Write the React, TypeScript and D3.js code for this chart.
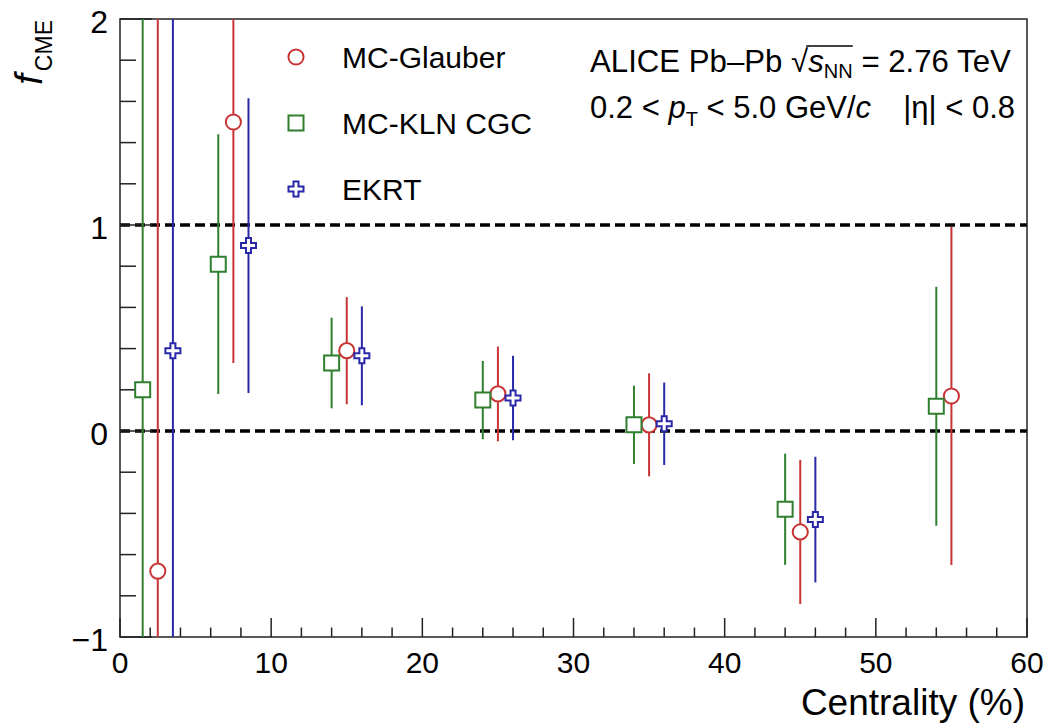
import React, { useEffect, useRef } from 'react';
import * as d3 from 'd3';

const W = 1049;
const H = 726;

// centrality bins, f_CME values and their errors
const glauberX = [2.5, 7.5, 15, 25, 35, 45, 55];
const glauberY = [-0.68, 1.5, 0.39, 0.18, 0.03, -0.49, 0.17];
const glauberErr = [2.9, 1.17, 0.26, 0.23, 0.25, 0.35, 0.82];

const klnX = [1.5, 6.5, 14, 24, 34, 44, 54];
const klnY = [0.2, 0.81, 0.33, 0.15, 0.03, -0.38, 0.12];
const klnErr = [2.5, 0.63, 0.22, 0.19, 0.19, 0.27, 0.58];

const ekrtX = [3.5, 8.5, 16, 26, 36, 46];
const ekrtY = [0.39, 0.9, 0.365, 0.16, 0.035, -0.43];
const ekrtErr = [2.5, 0.715, 0.24, 0.205, 0.2, 0.305];

const seriesNames = ['MC-Glauber', 'MC-KLN CGC', 'EKRT'];
const refLines = [0, 1];
const yTickLabels = ['\u22121', '0', '1', '2'];

const FONT = "'Liberation Sans', Arial, Helvetica, sans-serif";

const App = () => {
  const svgRef = useRef<SVGSVGElement | null>(null);

  useEffect(() => {
    if (!svgRef.current) return;
    const root = d3.select(svgRef.current);
    root.selectAll('*').remove();

    const left = 120, right = 1027, top = 19, bottom = 637;
    const x = d3.scaleLinear().domain([0, 60]).range([left, right]);
    const y = d3.scaleLinear().domain([-1, 2]).range([bottom, top]);

    const svg = root.append('g').attr('font-family', FONT);

    svg.append('defs').append('clipPath').attr('id', 'plotclip')
      .append('rect')
      .attr('x', left).attr('y', top)
      .attr('width', right - left).attr('height', bottom - top);

    // reference dashed lines
    svg.selectAll('.ref')
      .data(refLines)
      .join('line')
      .attr('x1', left).attr('x2', right)
      .attr('y1', d => y(d)).attr('y2', d => y(d))
      .attr('stroke', '#000')
      .attr('stroke-width', 3.5)
      .attr('stroke-dasharray', '10,5');

    // frame
    svg.append('rect')
      .attr('x', left).attr('y', top)
      .attr('width', right - left).attr('height', bottom - top)
      .attr('fill', 'none')
      .attr('stroke', '#222')
      .attr('stroke-width', 1.5);

    // x ticks
    const xMajor = x.ticks(6);
    const xMinor = d3.range(0, 60.001, 2).filter(v => v % 10 !== 0);
    svg.selectAll('.xmaj').data(xMajor).join('line')
      .attr('x1', d => x(d)).attr('x2', d => x(d))
      .attr('y1', bottom).attr('y2', bottom - 19)
      .attr('stroke', '#222').attr('stroke-width', 1.5);
    svg.selectAll('.xmin').data(xMinor).join('line')
      .attr('x1', d => x(d)).attr('x2', d => x(d))
      .attr('y1', bottom).attr('y2', bottom - 9.5)
      .attr('stroke', '#222').attr('stroke-width', 1.5);
    svg.selectAll('.xlab').data(xMajor).join('text')
      .attr('x', d => x(d)).attr('y', 673)
      .attr('text-anchor', 'middle')
      .attr('font-size', 30)
      .text(d => String(d));

    // y ticks
    const yMajor = y.ticks(3);
    const yMinor = d3.range(-1, 2.0001, 0.2).filter(v => Math.abs(v - Math.round(v)) > 0.01);
    svg.selectAll('.ymaj').data(yMajor).join('line')
      .attr('x1', left).attr('x2', left + 32)
      .attr('y1', d => y(d)).attr('y2', d => y(d))
      .attr('stroke', '#222').attr('stroke-width', 1.5);
    svg.selectAll('.ymin').data(yMinor).join('line')
      .attr('x1', left).attr('x2', left + 16)
      .attr('y1', d => y(d)).attr('y2', d => y(d))
      .attr('stroke', '#222').attr('stroke-width', 1.5);
    svg.selectAll('.ylab').data(yMajor).join('text')
      .attr('x', 108).attr('y', d => y(d) + 14)
      .attr('text-anchor', 'end')
      .attr('font-size', 32)
      .text((d, i) => yTickLabels[i]);

    // axis titles
    svg.append('text')
      .attr('x', 1025).attr('y', 715)
      .attr('text-anchor', 'end')
      .attr('font-size', 37)
      .text('Centrality (%)');

    const yt = svg.append('text')
      .attr('transform', 'translate(42,20) rotate(-90)')
      .attr('text-anchor', 'end');
    yt.append('tspan').attr('font-size', 38).attr('font-style', 'italic').text('f');
    yt.append('tspan').attr('font-size', 23).attr('dx', 3).attr('dy', 10).text('CME');

    // series
    const series = [
      { xs: glauberX, ys: glauberY, es: glauberErr, color: '#c83434', sym: d3.symbolCircle, size: 180 },
      { xs: klnX, ys: klnY, es: klnErr, color: '#2f7f2f', sym: d3.symbolSquare, size: 225 },
      { xs: ekrtX, ys: ekrtY, es: ekrtErr, color: '#2828a8', sym: d3.symbolCross, size: 125 },
    ];

    const plot = svg.append('g').attr('clip-path', 'url(#plotclip)');
    series.forEach(s => {
      const pts = s.xs.map((xv, i) => ({ x: xv, y: s.ys[i], e: s.es[i] }));
      plot.append('g').selectAll('line').data(pts).join('line')
        .attr('x1', d => x(d.x)).attr('x2', d => x(d.x))
        .attr('y1', d => y(d.y - d.e)).attr('y2', d => y(d.y + d.e))
        .attr('stroke', s.color).attr('stroke-width', 2);
      plot.append('g').selectAll('path').data(pts).join('path')
        .attr('transform', d => `translate(${x(d.x)},${y(d.y)})`)
        .attr('d', d3.symbol(s.sym, s.size)())
        .attr('fill', '#fff')
        .attr('stroke', s.color).attr('stroke-width', 2);
    });

    // legend
    const legendY = [57, 123, 189];
    series.forEach((s, i) => {
      svg.append('path')
        .attr('transform', `translate(296,${legendY[i]})`)
        .attr('d', d3.symbol(s.sym, s.size)())
        .attr('fill', '#fff')
        .attr('stroke', s.color).attr('stroke-width', 2);
      svg.append('text')
        .attr('x', 342).attr('y', legendY[i] + 11)
        .attr('font-size', 30)
        .text(seriesNames[i]);
    });

    // ALICE label
    const t1 = svg.append('text').attr('x', 590).attr('y', 72).attr('font-size', 31.2);
    t1.append('tspan').text('ALICE Pb\u2013Pb ');
    t1.append('tspan').text('\u221A');
    t1.append('tspan').attr('font-style', 'italic').text('s');
    t1.append('tspan').attr('font-size', 20).attr('dy', 6).text('NN');
    t1.append('tspan').attr('dy', -6).text(' = 2.76 TeV');
    const el = t1.node() as SVGTextElement;
    const s0 = 'ALICE Pb\u2013Pb \u221A'.length;
    const x0 = el.getStartPositionOfChar(s0).x;
    const x1 = el.getEndPositionOfChar(s0 + 2).x;
    svg.append('line')
      .attr('x1', x0 - 2).attr('x2', x1)
      .attr('y1', 46).attr('y2', 46)
      .attr('stroke', '#000').attr('stroke-width', 1.5);

    const t2 = svg.append('text').attr('x', 590).attr('y', 118).attr('font-size', 31);
    t2.append('tspan').text('0.2 < ');
    t2.append('tspan').attr('font-style', 'italic').text('p');
    t2.append('tspan').attr('font-size', 20).attr('dy', 8).text('T');
    t2.append('tspan').attr('dy', -8).text(' < 5.0 GeV/');
    t2.append('tspan').attr('font-style', 'italic').text('c');
    svg.append('text').attr('x', 1015).attr('y', 118).attr('font-size', 31)
      .attr('text-anchor', 'end')
      .text('|\u03B7| < 0.8');
  }, []);

  return (
    <svg
      ref={svgRef}
      width={W}
      height={H}
      style={{ position: 'absolute', left: 0, top: 0, background: '#fff' }}
    />
  );
};

export default App;
